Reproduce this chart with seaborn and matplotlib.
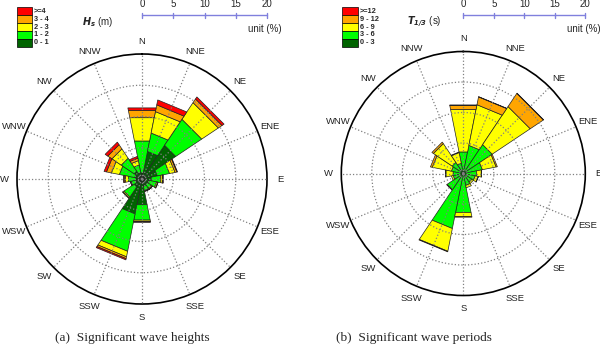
import numpy as np
import seaborn as sns
import matplotlib
matplotlib.use("Agg")
import matplotlib.pyplot as plt
from matplotlib.patches import Rectangle

# ---- data (percent of occurrence per direction, stacked classes) ----
directions = ['N', 'NNE', 'NE', 'ENE', 'E', 'ESE', 'SE', 'SSE',
              'S', 'SSW', 'SW', 'WSW', 'W', 'WNW', 'NW', 'NNW']

# significant wave height classes
hs_labels = ['0 - 1', '1 - 2', '2 - 3', '3 - 4', '>=4']
hs_0_1 = [1.0, 4.5, 6.5, 2.5, 1.5, 1.2, 1.0, 1.2, 4.2, 5.7, 1.5, 1.0, 1.0, 1.2, 1.5, 1.0]
hs_1_2 = [5.2, 3.0, 5.0, 2.0, 1.5, 1.2, 0.8, 0.7, 2.5, 6.1, 2.0, 0.8, 1.2, 2.5, 2.5, 1.3]
hs_2_3 = [3.8, 3.5, 3.2, 0.9, 0.3, 0.2, 0.2, 0.1, 0.2, 0.9, 0.2, 0.1, 0.5, 1.3, 1.8, 0.7]
hs_3_4 = [1.2, 1.1, 0.7, 0.3, 0.1, 0.05, 0.05, 0.05, 0.1, 0.3, 0.05, 0.05, 0.2, 0.8, 0.8, 0.4]
hs_4up = [0.4, 0.8, 0.4, 0.1, 0.05, 0, 0, 0, 0.03, 0.2, 0, 0, 0.1, 0.4, 0.5, 0.3]

# significant wave period classes
tp_labels = ['0 - 3', '3 - 6', '6 - 9', '9 - 12', '>=12']
tp_0_3 = [0.2, 0.2, 0.2, 0.2, 0.2, 0.2, 0.2, 0.2, 0.2, 0.2, 0.2, 0.2, 0.2, 0.2, 0.2, 0.2]
tp_3_6 = [3.4, 4.5, 5.5, 3.0, 2.0, 1.8, 1.5, 1.8, 6.3, 9.0, 3.0, 1.5, 1.5, 1.8, 2.0, 1.5]
tp_6_9 = [7.1, 6.8, 7.5, 2.3, 0.8, 0.5, 0.3, 0.4, 0.7, 3.8, 0.1, 0.3, 1.2, 3.2, 3.7, 1.8]
tp_9_12 = [0.7, 1.3, 2.6, 0.2, 0.05, 0.05, 0, 0, 0.1, 0.1, 0, 0, 0.1, 0.3, 0.3, 0.1]
tp_12up = [0.05, 0.05, 0.05, 0, 0, 0, 0, 0, 0, 0, 0, 0, 0, 0, 0, 0]

class_colors = ['#006400', '#00ff00', '#ffff00', '#ffa500', '#ff0000']

sns.set_theme(style="white")
plt.rcParams['font.family'] = ['Liberation Sans', 'DejaVu Sans']
plt.rcParams['mathtext.fontset'] = 'dejavusans'

W, H = 600, 356
fig = plt.figure(figsize=(6, 3.56), dpi=100)

# overlay in pixel coords for legend boxes, scale bars, captions
ov = fig.add_axes([0, 0, 1, 1])
ov.set_xlim(0, W)
ov.set_ylim(H, 0)
ov.axis('off')


def rose(cx, cy, R, segs, labels, title, leg_x, caption, cap_x):
    ax = fig.add_axes([(cx - R) / W, (H - (cy + R)) / H, 2 * R / W, 2 * R / H],
                      projection='polar')
    ax.set_theta_zero_location('N')
    ax.set_theta_direction(-1)
    ax.patch.set_alpha(0)
    theta = np.deg2rad(np.arange(16) * 22.5)
    half = np.deg2rad(22.5) / 2
    bottom = np.zeros(16)
    for vals, col in zip(segs, class_colors):
        for t, r0, v in zip(theta, bottom, vals):
            if v <= 0:
                continue
            # straight-edged sector, like the MATLAB rose patches
            ax.fill([t - half, t - half, t + half, t + half],
                    [r0, r0 + v, r0 + v, r0], facecolor=col,
                    edgecolor='#222222', linewidth=0.5, zorder=1)
        bottom = bottom + np.array(vals)
    ax.set_ylim(0, 20)
    ax.set_yticks([5, 10, 15])
    ax.set_yticklabels([])
    ax.set_xticks(theta)
    ax.set_xticklabels([])
    ax.grid(True, linestyle=':', color='#808080', linewidth=0.9)
    ax.set_axisbelow(False)
    ax.spines['polar'].set_color('black')
    ax.spines['polar'].set_linewidth(1.2)
    r_lab = 20 * (R + 13) / R
    for t, d in zip(theta, directions):
        ax.text(t, r_lab, d, ha='center', va='center', fontsize=6.8,
                color='#222222')

    # legend boxes
    bh = 7.9
    for i, (lab, col) in enumerate(zip(labels[::-1], class_colors[::-1])):
        y0 = 7.3 + i * bh
        ov.add_patch(Rectangle((leg_x, y0), 15.6, bh, facecolor=col,
                               edgecolor='black', linewidth=0.5))
        ov.text(leg_x + 17.5, y0 + bh / 2, lab, fontsize=5.3, fontweight='bold',
                va='center', ha='left')
    ov.text(leg_x + 65, 22, title, fontsize=7, va='center', ha='left')

    # scale bar
    ov.plot([cx, cx + R], [15.3, 15.3], color='#8080dd', lw=1.0)
    for k in range(5):
        xx = cx + R * k / 4
        ov.plot([xx, xx], [13, 17.6], color='#8080dd', lw=1.0)
        ov.text(xx, 4, str(k * 5), fontsize=7, ha='center', va='center')
    ov.text(cx + R + 15, 29, 'unit (%)', fontsize=7, ha='right', va='center')

    ov.text(cap_x, 338, caption, fontsize=9.6, ha='center', va='center',
            family='Liberation Serif')
    return ax


rose(142, 179, 125, [hs_0_1, hs_1_2, hs_2_3, hs_3_4, hs_4up], hs_labels,
     r'$\mathbfit{H}_{\mathbfit{s}}$ (m)', 16.7,
     '(a)  Significant wave heights', 132)
rose(463.3, 173.5, 122, [tp_0_3, tp_3_6, tp_6_9, tp_9_12, tp_12up], tp_labels,
     r'$\mathbfit{T}_{\mathbfit{1/3}}$ (s)', 342.3,
     '(b)  Significant wave periods', 414)

fig.savefig('out.png', dpi=100)
